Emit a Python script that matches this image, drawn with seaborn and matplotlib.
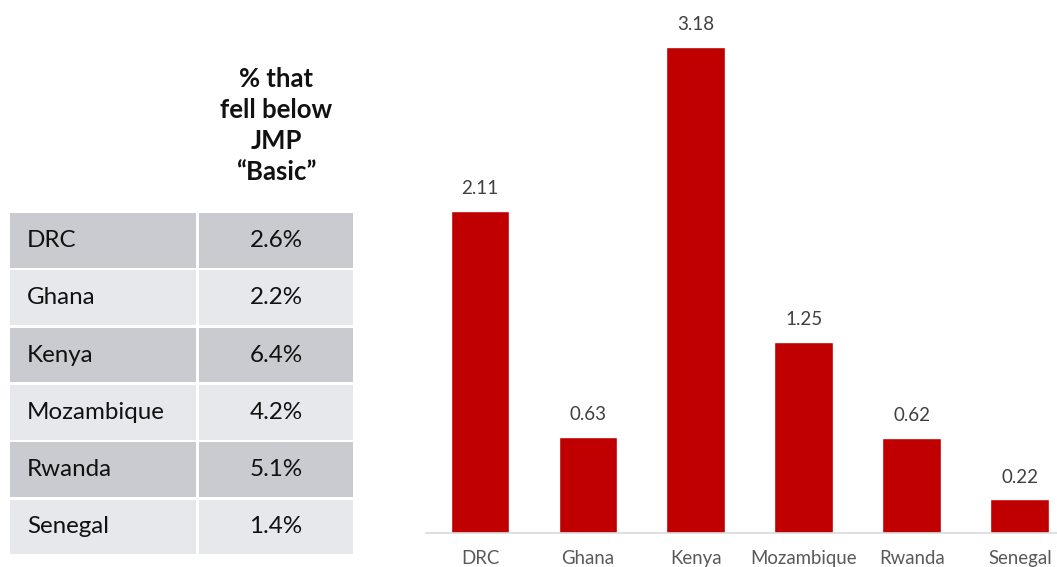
import matplotlib
matplotlib.use("Agg")
import matplotlib.pyplot as plt
from matplotlib.patches import Rectangle
import seaborn as sns
import pandas as pd

# Data
countries = ["DRC", "Ghana", "Kenya", "Mozambique", "Rwanda", "Senegal"]
bar_values = [2.11, 0.63, 3.18, 1.25, 0.62, 0.22]
table_pct = ["2.6%", "2.2%", "6.4%", "4.2%", "5.1%", "1.4%"]
header_lines = ["% that", "fell below", "JMP", "\u201cBasic\u201d"]

sns.set_theme(style="white")
plt.rcParams["font.family"] = ["Lato", "DejaVu Sans"]

W, H = 1057, 567
fig = plt.figure(figsize=(W / 100, H / 100), dpi=100)

# ---- bar chart ----
ax = fig.add_axes([426 / W, (H - 533) / H, (W - 426) / W, 533 / H])
df = pd.DataFrame({"country": countries, "value": bar_values})
sns.barplot(data=df, x="country", y="value", color="#c00000", saturation=1,
            width=0.546, ax=ax)
ax.set_xlim(-0.5, 5.343)
ax.set_ylim(0, 3.49)
ax.set_xlabel("")
ax.set_ylabel("")
ax.set_yticks([])
for s in ["top", "right", "left"]:
    ax.spines[s].set_visible(False)
ax.spines["bottom"].set_color("#d9d9d9")
ax.spines["bottom"].set_linewidth(1.2)
ax.tick_params(axis="x", length=0, pad=12, labelsize=13.4, labelcolor="#595959")
for i, v in enumerate(bar_values):
    ax.annotate(f"{v:.2f}", (i, v), xytext=(0, 10), textcoords="offset points",
                ha="center", va="bottom", fontsize=13.5, color="#404040")

# ---- table ----
tx = fig.add_axes([0, 0, 1, 1])
tx.set_xlim(0, W)
tx.set_ylim(H, 0)
tx.axis("off")
tx.patch.set_alpha(0)

col_edges = [(10, 196), (199, 353)]
top, row_h, gap = 213, 57.3, 2.5
dark, light = "#c9cbd1", "#e7e8eb"
for r, (name, pct) in enumerate(zip(countries, table_pct)):
    y0 = top + r * row_h
    color = dark if r % 2 == 0 else light
    for x0, x1 in col_edges:
        tx.add_patch(Rectangle((x0, y0), x1 - x0, row_h - gap, facecolor=color,
                               edgecolor="none"))
    yc = y0 + (row_h - gap) / 2
    tx.text(27, yc, name, ha="left", va="center", fontsize=17.4, color="#111111")
    tx.text(276, yc, pct, ha="center", va="center", fontsize=17.4, color="#111111")

for k, line in enumerate(header_lines):
    tx.text(276, 79 + k * 31, line, ha="center", va="center", fontsize=18.5,
            fontweight="bold", color="#111111")

fig.savefig("out.png", dpi=100)
